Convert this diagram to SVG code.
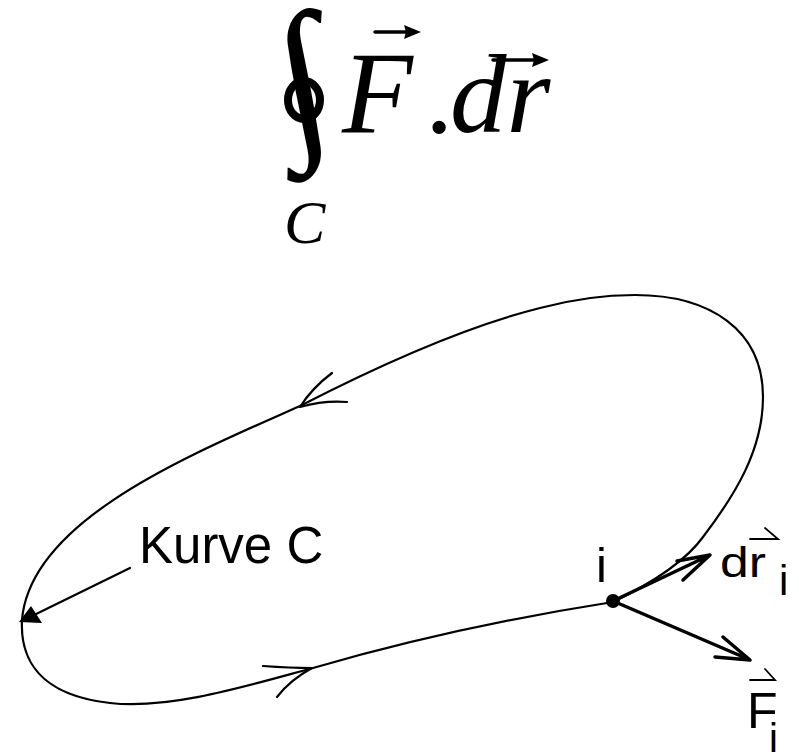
<svg xmlns="http://www.w3.org/2000/svg" width="799" height="755" viewBox="0 0 799 755">
<style>
.curve{fill:none;stroke:#000;stroke-width:2.2;stroke-linecap:round;stroke-linejoin:round}
.thick{fill:none;stroke:#000;stroke-width:3.5;stroke-linecap:round;stroke-linejoin:round}
.thin{fill:none;stroke:#000;stroke-width:1.8;stroke-linecap:round}
.it{font-family:"Liberation Serif","Times New Roman",serif;font-style:italic;fill:#000}
.rm{font-family:"Liberation Serif","Times New Roman",serif;font-style:normal;fill:#000}
.sans{font-family:"Liberation Sans",Arial,sans-serif;fill:#000}
</style>
<rect width="799" height="755" fill="#fff"/>
<g id="formula">
<text class="rm" transform="translate(288,135) skewX(11)" x="0" y="0" font-size="178" font-weight="bold">∫</text>
<ellipse cx="304" cy="100" rx="16" ry="19" fill="none" stroke="#000" stroke-width="8"/>
<text class="it" x="342" y="132" font-size="116">F</text>
<text class="rm" x="425" y="132" font-size="113">.</text>
<text class="it" x="450" y="132" font-size="113">dr</text>
<text class="it" x="284" y="243" font-size="62">C</text>
<path class="thick" d="M375 32 H414"/>
<path d="M421 32 L404 25 L406 32 L404 39 Z"/>
<path class="thick" d="M493 60 H542"/>
<path d="M549 60 L532 53 L534 60 L532 67 Z"/>
</g>
<g id="connectors">
<path id="curveC" class="curve" d="M613 602 C650 584 685 562 703 537 C735 495 763 450 763 397 C763 330 710 295 635 295 C600 295 570 300 540 308 C460 328 370 370 300 406 C190 455 30 520 22 620 C20 660 40 695 110 703 C170 710 250 685 313 668 C420 637 530 615 613 602"/>
<path class="curve" d="M332 373 Q312 388 300 407 Q325 400 347 402"/>
<path class="curve" d="M263 666 Q290 668 312 668 Q290 680 277 697"/>
<path class="curve" d="M130 568 L30 617" stroke-width="2.5"/>
<path d="M19 622 L42 623 L31 606 Z"/>
<path class="thick" d="M613 601 L708 556 M683 580 L710 555 L677 561"/>
<path class="thick" d="M613 601 L748 659 M715 657 L750 660 L723 637"/>
</g>
<g id="point-i">
<circle cx="613" cy="601" r="7"/>
<text class="sans" x="596" y="582" font-size="49">i</text>
</g>
<g id="label-kurve">
<text class="sans" x="139" y="563" font-size="51">Kurve C</text>
</g>
<g id="label-dr">
<text class="sans" x="720" y="577" font-size="42" textLength="46" lengthAdjust="spacingAndGlyphs">dr</text>
<text class="sans" x="779" y="595" font-size="42">i</text>
<path class="thin" d="M750 539 H778 L765 528"/>
</g>
<g id="label-F">
<text class="sans" x="747" y="728" font-size="50">F</text>
<text class="sans" x="769" y="752" font-size="40">i</text>
<path class="thin" d="M750 680 H775 L765 669"/>
</g>
</svg>
